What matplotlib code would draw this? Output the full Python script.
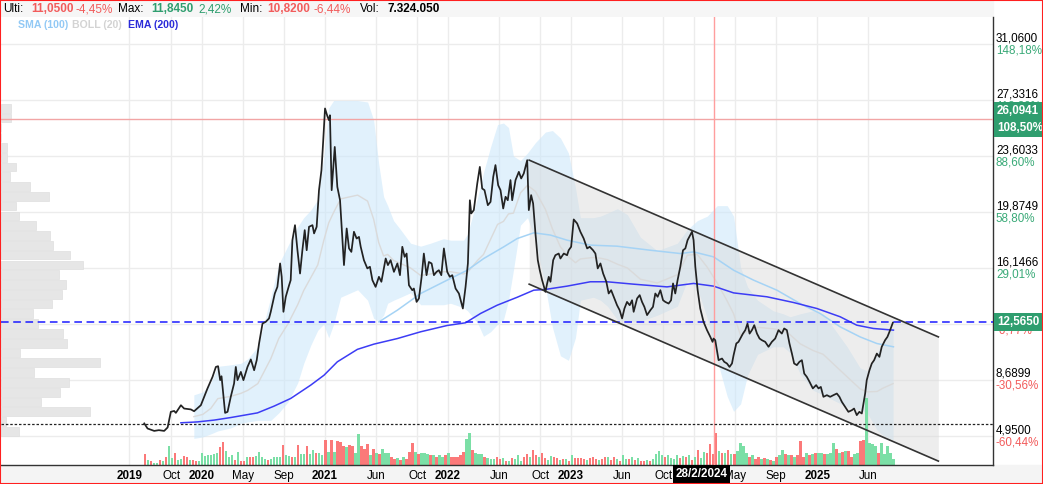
import numpy as np
import matplotlib
matplotlib.use("Agg")
import matplotlib.pyplot as plt
from matplotlib.transforms import blended_transform_factory
from matplotlib.patches import Rectangle

plt.rcParams['font.family'] = ['Liberation Sans', 'DejaVu Sans']

W, H = 1043, 484

# ---------------- data (time as decimal year) ----------------
price_t = [
    2019.532, 2019.559, 2019.613, 2019.651, 2019.694, 2019.722, 2019.748, 2019.775, 2019.789, 2019.830,
    2019.856, 2019.911, 2019.937, 2019.992, 2020.046, 2020.087, 2020.114, 2020.132, 2020.149, 2020.160,
    2020.176, 2020.189, 2020.209, 2020.235, 2020.262, 2020.276, 2020.290, 2020.317, 2020.338, 2020.371,
    2020.398, 2020.425, 2020.446, 2020.465, 2020.493, 2020.519, 2020.546, 2020.560, 2020.593, 2020.614,
    2020.636, 2020.649, 2020.663, 2020.682, 2020.709, 2020.722, 2020.736, 2020.757, 2020.777, 2020.798,
    2020.817, 2020.836, 2020.852, 2020.871, 2020.899, 2020.912, 2020.933, 2020.952, 2020.972, 2020.985,
    2021.001, 2021.020, 2021.033, 2021.041, 2021.055, 2021.080, 2021.101, 2021.123, 2021.155, 2021.177,
    2021.196, 2021.215, 2021.236, 2021.258, 2021.277, 2021.291, 2021.317, 2021.345, 2021.366, 2021.386,
    2021.412, 2021.439, 2021.459, 2021.494, 2021.512, 2021.534, 2021.561, 2021.589, 2021.610, 2021.629,
    2021.648, 2021.664, 2021.683, 2021.710, 2021.723, 2021.745, 2021.764, 2021.786, 2021.804, 2021.826,
    2021.845, 2021.867, 2021.886, 2021.907, 2021.926, 2021.946, 2021.967, 2021.994, 2022.015, 2022.035,
    2022.062, 2022.089, 2022.121, 2022.143, 2022.162, 2022.178, 2022.189, 2022.210, 2022.238, 2022.259,
    2022.278, 2022.297, 2022.324, 2022.346, 2022.368, 2022.386, 2022.408, 2022.427, 2022.449, 2022.468,
    2022.486, 2022.508, 2022.522, 2022.549, 2022.576, 2022.595, 2022.616, 2022.644, 2022.657, 2022.676,
    2022.692, 2022.711, 2022.730, 2022.746, 2022.765, 2022.792, 2022.806, 2022.819, 2022.833, 2022.855,
    2022.873, 2022.900, 2022.914, 2022.941, 2022.968, 2022.981, 2023.001, 2023.022, 2023.050, 2023.076,
    2023.103, 2023.131, 2023.152, 2023.179, 2023.198, 2023.217, 2023.239, 2023.261, 2023.287, 2023.306,
    2023.326, 2023.347, 2023.374, 2023.395, 2023.415, 2023.434, 2023.455, 2023.477, 2023.496, 2023.509,
    2023.537, 2023.558, 2023.577, 2023.596, 2023.618, 2023.645, 2023.666, 2023.685, 2023.704, 2023.726,
    2023.748, 2023.766, 2023.793, 2023.813, 2023.829, 2023.847, 2023.866, 2023.888, 2023.910, 2023.929,
    2023.947, 2023.969, 2023.983, 2023.996, 2024.010, 2024.029, 2024.050, 2024.077, 2024.105, 2024.132,
    2024.150, 2024.158, 2024.172, 2024.186, 2024.199, 2024.227, 2024.245, 2024.267, 2024.288, 2024.308,
    2024.321, 2024.343, 2024.361, 2024.375, 2024.397, 2024.416, 2024.434, 2024.451, 2024.470, 2024.489,
    2024.511, 2024.532, 2024.551, 2024.578, 2024.605, 2024.632, 2024.659, 2024.686, 2024.713, 2024.732,
    2024.754, 2024.775, 2024.795, 2024.813, 2024.835, 2024.856, 2024.876, 2024.895, 2024.916, 2024.938,
    2024.965, 2024.992, 2025.011, 2025.030, 2025.051, 2025.079, 2025.106, 2025.132, 2025.160, 2025.181,
    2025.201, 2025.227, 2025.254, 2025.282, 2025.300, 2025.322, 2025.343, 2025.363, 2025.376, 2025.390,
    2025.403, 2025.425, 2025.444, 2025.463, 2025.485, 2025.506, 2025.525, 2025.552, 2025.571, 2025.593,
    2025.615]
price = [
    5.80, 5.46, 5.30, 5.35, 5.30, 5.53, 6.57, 6.63, 6.50, 7.01,
    6.79, 6.73, 6.61, 7.01, 8.13, 8.90, 9.56, 9.61, 8.68, 8.94,
    7.57, 6.50, 6.57, 7.57, 8.46, 9.56, 8.68, 9.23, 8.68, 9.56,
    10.06, 9.34, 10.01, 11.12, 12.45, 12.56, 12.79, 13.23, 14.45, 14.89,
    16.45, 15.56, 13.23, 14.23, 15.00, 15.34, 18.00, 19.00, 17.33, 15.78,
    17.33, 18.67, 17.33, 18.89, 19.00, 18.45, 18.89, 21.33, 22.66, 24.44,
    26.77, 26.26, 25.99, 26.32, 21.33, 24.21, 21.55, 20.66, 16.34, 18.78,
    17.45, 17.22, 18.56, 18.11, 18.22, 17.56, 16.67, 16.12, 16.23, 15.34,
    14.89, 15.56, 15.23, 16.78, 16.34, 16.67, 15.89, 16.45, 15.67, 17.56,
    16.89, 17.11, 15.00, 14.67, 14.78, 13.89, 14.12, 15.56, 17.11, 15.67,
    16.55, 16.45, 15.67, 15.89, 16.00, 15.67, 17.45, 15.89, 15.56, 15.67,
    14.78, 14.45, 13.45, 14.89, 16.45, 20.66, 19.78, 20.00, 21.77, 22.88,
    21.44, 21.33, 20.33, 20.55, 22.22, 23.00, 21.66, 21.33, 20.11, 20.89,
    20.66, 22.00, 20.66, 22.00, 22.55, 22.11, 22.44, 23.33, 20.00, 21.00,
    20.44, 18.45, 16.67, 16.00, 15.34, 14.56, 15.12, 15.56, 15.23, 16.67,
    17.00, 17.11, 16.78, 17.11, 17.00, 17.33, 17.56, 19.38, 19.11, 18.56,
    18.11, 17.45, 17.56, 17.33, 17.11, 16.12, 16.45, 15.78, 15.23, 14.45,
    14.67, 14.23, 13.67, 13.34, 12.79, 13.45, 13.89, 13.67, 14.00, 13.23,
    14.12, 14.34, 13.89, 13.56, 13.01, 13.34, 13.56, 14.45, 14.23, 14.67,
    14.00, 13.89, 13.78, 14.00, 15.12, 14.45, 15.34, 16.23, 17.33, 17.45,
    18.00, 18.34, 18.56, 18.00, 16.23, 14.67, 13.45, 12.56, 12.01, 11.56,
    11.23, 11.45, 11.34, 10.67, 10.01, 10.12, 9.90, 9.79, 9.56, 9.79,
    10.34, 11.12, 11.23, 11.45, 11.78, 12.01, 12.45, 11.78, 12.01, 12.34,
    11.78, 11.45, 11.34, 11.23, 10.90, 11.23, 11.45, 12.01, 11.78, 12.12,
    12.01, 11.12, 10.45, 9.79, 9.68, 9.90, 10.01, 9.12, 8.90, 8.57,
    8.13, 8.35, 8.13, 8.23, 7.57, 7.68, 7.57, 7.68, 7.79, 7.57,
    7.23, 6.90, 6.57, 6.68, 6.79, 6.35, 6.57, 6.46, 7.12, 7.79,
    8.68, 9.34, 9.79, 10.01, 10.45, 10.23, 10.90, 11.34, 11.56, 12.01,
    12.50]

# EMA (200)
ema_t = [2019.830, 2019.965, 2020.100, 2020.235, 2020.452, 2020.587, 2020.722, 2020.885, 2020.993,
         2021.101, 2021.264, 2021.399, 2021.589, 2021.778, 2021.994, 2022.143, 2022.265, 2022.400,
         2022.563, 2022.697, 2022.792, 2022.968, 2023.157, 2023.293, 2023.509, 2023.780, 2023.996,
         2024.158, 2024.321, 2024.592, 2024.808, 2024.998, 2025.187, 2025.322, 2025.457, 2025.620]
ema = [5.84, 5.90, 6.02, 6.19, 6.50, 6.95, 7.46, 8.35, 9.01,
       9.90, 10.73, 11.08, 11.45, 11.90, 12.32, 12.50, 13.12, 13.67,
       14.20, 14.67, 14.72, 14.94, 15.23, 15.23, 15.07, 14.89, 15.12,
       14.94, 14.49, 14.23, 13.85, 13.45, 12.90, 12.34, 12.12, 12.01]

# SMA (100)
sma_t = [2021.439, 2021.589, 2021.778, 2021.994, 2022.157, 2022.291, 2022.454, 2022.563, 2022.697,
         2022.833, 2022.968, 2023.157, 2023.374, 2023.645, 2023.888, 2023.996, 2024.158, 2024.321,
         2024.483, 2024.673, 2024.862, 2025.024, 2025.187, 2025.349, 2025.485, 2025.620]
sma = [12.56, 13.34, 14.45, 15.34, 16.00, 16.78, 17.56, 18.11, 18.49,
       18.34, 18.00, 17.67, 17.60, 17.33, 17.11, 17.22, 16.89, 16.00,
       15.34, 14.67, 13.78, 13.12, 12.23, 11.56, 11.12, 10.90]

# BOLL (20) upper / lower
boll_t = [2019.935, 2020.008, 2020.073, 2020.130, 2020.235, 2020.317, 2020.373, 2020.455, 2020.503, 2020.560,
          2020.625, 2020.698, 2020.779, 2020.828, 2020.885, 2020.942, 2020.990, 2021.031, 2021.071, 2021.128,
          2021.266, 2021.347, 2021.396, 2021.437, 2021.477, 2021.510, 2021.558, 2021.615, 2021.696, 2021.778,
          2021.859, 2021.964, 2022.021, 2022.127, 2022.159, 2022.240, 2022.289, 2022.346, 2022.403, 2022.451,
          2022.492, 2022.532, 2022.589, 2022.646, 2022.711, 2022.792, 2022.849, 2022.914, 2022.979, 2023.036,
          2023.076, 2023.182, 2023.239, 2023.296, 2023.377, 2023.458, 2023.564, 2023.701, 2023.864, 2023.945,
          2024.026, 2024.107, 2024.188, 2024.269, 2024.321, 2024.378, 2024.434, 2024.516, 2024.643, 2024.724,
          2024.781, 2024.862, 2024.968, 2025.049, 2025.130, 2025.244, 2025.349, 2025.406, 2025.487, 2025.536,
          2025.617]
boll_up = [7.7, 7.9, 8.5, 9.6, 9.7, 9.8, 10.1, 10.9, 12.4, 14.2,
           16.4, 17.6, 18.9, 19.5, 20.0, 20.7, 23.5, 26.8, 27.3, 27.3,
           27.3, 27.2, 26.0, 23.1, 20.9, 20.3, 19.3, 18.7, 17.8, 17.6,
           17.8, 18.1, 18.0, 18.0, 18.4, 20.8, 22.5, 24.2, 25.7, 25.8,
           25.5, 23.6, 23.3, 23.8, 24.5, 25.2, 25.3, 24.8, 23.8, 21.5,
           19.5, 19.5, 19.6, 19.8, 20.1, 19.7, 18.2, 17.3, 17.8, 18.7,
           19.3, 19.6, 20.3, 20.3, 19.6, 16.2, 14.9, 14.0, 13.3, 13.1,
           12.9, 13.1, 13.3, 13.1, 12.2, 10.9, 9.5, 9.3, 10.5, 11.3,
           12.2]
boll_lo = [4.8, 4.9, 5.1, 5.3, 5.5, 5.8, 5.9, 6.0, 6.0, 6.0,
           6.5, 7.2, 8.5, 9.8, 11.0, 12.0, 12.4, 11.5, 12.4, 14.2,
           14.7, 14.0, 12.8, 12.6, 13.0, 13.8, 14.0, 14.2, 14.5, 13.7,
           13.7, 13.7, 13.8, 13.5, 13.3, 12.5, 11.6, 11.9, 12.4, 12.7,
           14.0, 16.0, 19.0, 19.5, 18.0, 14.9, 12.2, 10.3, 10.0, 11.5,
           14.0, 14.2, 14.0, 13.6, 12.7, 12.6, 12.6, 13.0, 13.6, 15.3,
           14.8, 12.8, 10.0, 7.6, 6.6, 7.1, 9.0, 10.4, 10.9, 10.9,
           10.5, 9.1, 8.0, 7.7, 7.35, 6.9, 6.7, 6.5, 5.35, 5.0,
           4.7]

# volume bars (first bar -> last bar, evenly spaced); 'g' = up bar, 'r' = down bar
vol_first, vol_last = 2019.537, 2025.622
vol = [11, 5, 4, 2, 2, 5, 4, 8, 19, 7, 12, 5, 6, 9, 8, 5, 5, 4, 4, 12,
       9, 10, 10, 11, 12, 18, 23, 14, 8, 10, 5, 13, 4, 4, 8, 8, 8, 9, 13, 8,
       6, 5, 6, 8, 8, 8, 20, 10, 9, 8, 8, 20, 11, 11, 19, 11, 15, 12, 12, 10,
       25, 13, 25, 13, 24, 23, 19, 18, 20, 19, 12, 31, 19, 16, 21, 10, 16, 12, 11, 16,
       12, 12, 8, 6, 7, 5, 8, 6, 13, 22, 13, 11, 12, 12, 11, 10, 10, 8, 10, 8,
       10, 12, 8, 8, 8, 10, 13, 26, 32, 15, 12, 11, 11, 8, 7, 6, 6, 8, 6, 7,
       4, 4, 7, 6, 10,
       4, 8, 11, 8, 15, 10, 8, 12, 7, 5, 9, 8, 7, 5, 6, 6, 4, 10, 7, 7,
       7, 6, 5, 7, 8, 6, 5, 6, 8, 8, 5, 8, 6, 4, 10, 6, 6, 8, 5, 7,
       4, 4, 5, 4, 6, 11, 14, 10, 8, 10, 7, 6, 10, 7, 9, 8, 10, 5, 8, 15,
       7, 13, 12, 21, 11, 32, 14, 12, 12, 15, 11, 11, 14, 22, 19, 12, 8, 10, 6, 8,
       6, 7, 6, 5, 4, 8, 10, 15, 11, 10, 10, 8, 10, 24, 8, 12, 10, 11, 12, 12,
       12, 11, 11, 12, 22, 16, 12, 13, 14, 14, 8, 11, 12, 24, 25, 67, 22, 21, 19, 12,
       22, 11, 19, 12, 6]
vol_dir = ("rgrggrgrgg" "rggrrgrrgg" "gggggrrggg" "rgrrgrrggg" "grggggrggr"
           "grggrggrgg" "rgrgrrrgrr" "ggrrrgrgrg" "ggrrgrgrrr" "grgggrgrgg"
           "rgrrrrrggr" "gggrgggrrg" "rgrgg"
           "grrgrrgrrg" "grrgrgrgrr" "rrgrrrgrrg" "rrgrggrgrg" "rrgrggggrg"
           "gggrgrgrgr" "ggrrrrgrgr" "grggggrgrr" "grgrgrggrg" "rgrrrgrgrg"
           "grgggrgrgr" "rggrrggggr" "ggggg")

# volume-by-price profile (bottom -> top bins)
prof_base, prof_step = 4.95, 0.652
prof_vol = [18, 5, 90, 40, 59, 69, 33, 100, 19, 67, 63, 37, 32, 51, 61, 66, 58, 83, 70, 52,
            49, 35, 18, 15, 48, 29, 9, 15, 6, 6, 0, 0, 10, 10]

# trend channel
chan_t = [2022.66, 2025.985]
chan_up = [23.33, 11.56]
chan_lo = [15.07, 3.29]

last_price = 12.565
ref_price = 26.0941
start_price = 5.75
mark_date = 2024.16

yticks = [4.95, 8.6899, 12.4183, 16.1466, 19.8749, 23.6033, 27.3316, 31.06]
ypct = ["-60,44%", "-30,56%", "-0,77%", "29,01%", "58,80%", "88,60%", "118,39%", "148,18%"]

xticks = [2019.41, 2019.75, 2020.0, 2020.333, 2020.667, 2021.0, 2021.414, 2021.75, 2022.0,
          2022.414, 2022.75, 2023.0, 2023.414, 2023.75, 2024.0, 2024.333, 2024.667, 2025.0, 2025.414]
xlabels = ["2019", "Oct", "2020", "May", "Sep", "2021", "Jun", "Oct", "2022",
           "Jun", "Oct", "2023", "Jun", "Oct", "2024", "May", "Sep", "2025", "Jun"]

# ---------------- figure ----------------
GREEN = '#2f9e6f'
RED = '#f25c5c'

fig = plt.figure(figsize=(W / 100, H / 100), dpi=100)
ax = fig.add_axes([1 / W, 19 / H, 992 / W, 448 / H])

ax.set_yticks(yticks)
ax.set_xticks(xticks)
ax.set_xticklabels(xlabels, fontsize=8.4)
for lbl in ax.get_xticklabels():
    if lbl.get_text().isdigit():
        lbl.set_fontweight('bold')
ax.tick_params(axis='x', length=0, pad=3.5)
ax.tick_params(axis='y', length=0, labelleft=False)
ax.grid(True, color='#ececec', lw=1)
ax.set_axisbelow(True)
for s in ['top', 'left']:
    ax.spines[s].set_visible(False)
for s in ['right', 'bottom']:
    ax.spines[s].set_color('#333333')
    ax.spines[s].set_linewidth(1)

tr_ay = blended_transform_factory(ax.transAxes, ax.transData)   # x axes, y data
tr_xa = blended_transform_factory(ax.transData, ax.transAxes)   # x data, y axes

# volume profile on the left
prof_lo = prof_base + prof_step * np.arange(len(prof_vol))
ax.barh(prof_lo + 0.03, np.array(prof_vol) / 1000, height=prof_step - 0.07, left=0,
        align='edge', transform=tr_ay, color='#e6e6e6', edgecolor='#dedede', lw=0.5, zorder=1)

# bollinger band
bu, bl = np.array(boll_up), np.array(boll_lo)
ax.fill_between(boll_t, bl, bu, color='#cde8fb', alpha=0.6, lw=0, zorder=1.5)
ax.plot(boll_t, (bu + bl) / 2, color='#dadada', lw=1, zorder=2.5)

# channel
ax.fill_between(chan_t, chan_lo, chan_up, color='#d9d9d9', alpha=0.45, lw=0, zorder=1.6)

# volume
vt = np.linspace(vol_first, vol_last, len(vol))
vcol = ['#7bdfa6' if d == 'g' else '#fb7979' for d in vol_dir[:len(vol)]]
vcol += ['#7bdfa6'] * (len(vol) - len(vcol))
ax.bar(vt, np.array(vol) / 448, width=0.8 * (vt[1] - vt[0]), bottom=0,
       transform=tr_xa, color=vcol, lw=0, antialiased=False, zorder=2)

# reference lines
ax.axhline(ref_price, color='#f2a5a5', lw=1, zorder=3.5)
ax.axvline(mark_date, color='#ff9e9e', lw=1, zorder=3.5)
ax.axhline(last_price, color='#1a1aff', lw=1.1, ls=(0, (5, 3)), zorder=3.5)
ax.axhline(start_price, color='#222222', lw=0.9, ls=(0, (2, 1.5)), zorder=3.5)

# indicators and price
ax.plot(sma_t, sma, color='#a5d3f5', lw=1.1, zorder=3)
ax.plot(ema_t, ema, color='#3c3cf5', lw=1.1, zorder=3)
ax.plot(chan_t, chan_up, color='#333333', lw=1.2, zorder=4)
ax.plot(chan_t, chan_lo, color='#333333', lw=1.2, zorder=4)
ax.plot(price_t, price, color='#222222', lw=1.25, zorder=5)

ax.set_xlim(2018.368, 2026.429)
ax.set_ylim(3.03, 32.86)

# right axis labels
for p, pc in zip(yticks, ypct):
    ax.text(1.003, p, f"{p:.4f}".replace('.', ','), transform=tr_ay, va='bottom', ha='left',
            fontsize=8.4, color='black', clip_on=False)
    ax.text(1.003, p, pc, transform=tr_ay, va='top', ha='left', fontsize=8.4,
            color=RED if pc.startswith('-') else '#3aaa78', clip_on=False)

box = dict(boxstyle='square,pad=0.25', fc=GREEN, ec='none')
ax.text(1.004, ref_price + 0.12, "26,0941", transform=tr_ay, va='bottom', ha='left', fontsize=8.4,
        color='white', fontweight='bold', bbox=box, clip_on=False, zorder=10)
ax.text(1.004, ref_price - 0.2, "108,50%", transform=tr_ay, va='top', ha='left', fontsize=8.4,
        color='white', fontweight='bold', bbox=box, clip_on=False, zorder=10)
ax.text(1.004, last_price, "12,5650", transform=tr_ay, va='center', ha='left', fontsize=8.4,
        color='white', fontweight='bold', bbox=box, clip_on=False, zorder=10)

# date marker label
ax.text(2024.06, -0.02, "28/2/2024", transform=tr_xa, va='center', ha='center', fontsize=8.4,
        color='white', fontweight='bold', clip_on=False, zorder=10,
        bbox=dict(boxstyle='square,pad=0.25', fc='black', ec='none'))

# header and legend
fig.add_artist(Rectangle((0, 1 - 17 / H), 993 / W, 17 / H, transform=fig.transFigure,
                         color='#f6f6f6', zorder=-1))
fig.add_artist(Rectangle((0, 0), 1, 19 / H, transform=fig.transFigure, color='#f4f4f4', zorder=-1))

header = [("Ulti:", 'black', 'normal', 3), ("11,0500", RED, 'bold', 31), ("-4,45%", RED, 'normal', 76),
          ("Max:", 'black', 'normal', 118), ("11,8450", GREEN, 'bold', 151), ("2,42%", GREEN, 'normal', 198),
          ("Min:", 'black', 'normal', 240), ("10,8200", RED, 'bold', 267), ("-6,44%", RED, 'normal', 313),
          ("Vol:", 'black', 'normal', 360), ("7.324.050", 'black', 'bold', 387)]
for s, c, wgt, x in header:
    fig.text(x / W, 1 - 9 / H, s, color=c, fontweight=wgt, fontsize=8.5, va='center', ha='left')

legend = [("SMA (100)", '#92c9f5', 18), ("BOLL (20)", '#d3d3d3', 72), ("EMA (200)", '#2b2bd9', 128)]
for s, c, x in legend:
    fig.text(x / W, 1 - 25 / H, s, color=c, fontweight='bold', fontsize=7.6, va='center', ha='left')

fig.add_artist(Rectangle((0, 0), 1, 1, transform=fig.transFigure, fill=False,
                         edgecolor='#ff2020', lw=1.5, zorder=20))

fig.savefig("out.png", dpi=100)
